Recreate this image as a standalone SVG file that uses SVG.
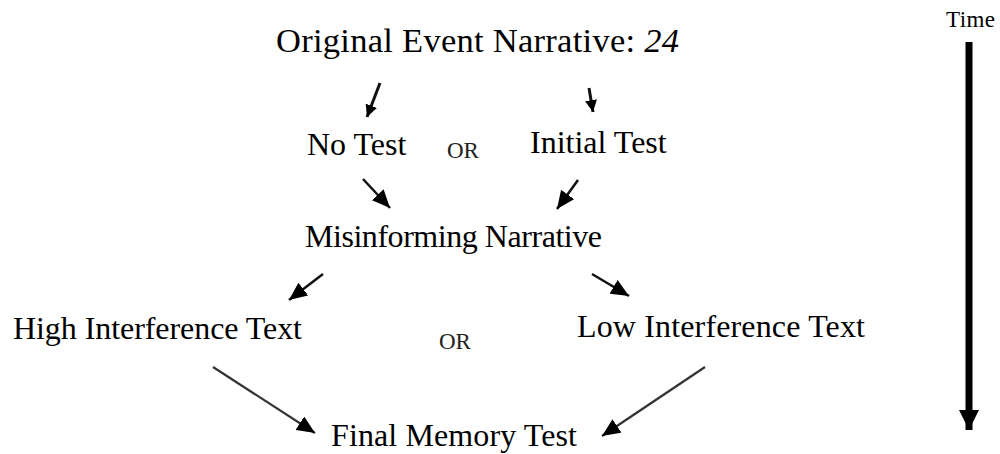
<svg xmlns="http://www.w3.org/2000/svg" width="1000" height="454" viewBox="0 0 1000 454">
<style>
text{font-family:"Liberation Serif","Times New Roman",serif;fill:#000}
.n{font-size:32px}
.or{font-size:23px;fill:#222}
.c{stroke:#111;fill:none}
</style>
<defs>
<marker id="hs" markerUnits="userSpaceOnUse" markerWidth="12" markerHeight="12" refX="12" refY="6" orient="auto"><path d="M0,0L12,6L0,12z" fill="#000"/></marker>
<marker id="hm" markerUnits="userSpaceOnUse" markerWidth="18" markerHeight="16" refX="18" refY="8" orient="auto"><path d="M0,0L18,8L0,16z" fill="#000"/></marker>
<marker id="ht" markerUnits="userSpaceOnUse" markerWidth="22" markerHeight="22" refX="20" refY="10" orient="auto"><path d="M0,0L20,10L0,20z" fill="#000"/></marker>
</defs>
<rect width="1000" height="454" fill="#fff"/>
<g id="title"><text x="276" y="52" font-size="34.5" textLength="403">Original Event Narrative: <tspan font-style="italic">24</tspan></text></g>
<g id="notest"><text class="n" x="307" y="155">No Test</text></g>
<g id="or1"><text class="or" x="447" y="158">OR</text></g>
<g id="initial"><text class="n" x="530" y="153">Initial Test</text></g>
<g id="misinforming"><text class="n" x="305" y="247" textLength="297">Misinforming Narrative</text></g>
<g id="high"><text class="n" x="13" y="339" textLength="289">High Interference Text</text></g>
<g id="or2"><text class="or" x="439" y="349">OR</text></g>
<g id="low"><text class="n" x="577" y="337" textLength="288">Low Interference Text</text></g>
<g id="final"><text class="n" x="331" y="446" textLength="246">Final Memory Test</text></g>
<g id="time"><text x="946" y="27" font-size="23" textLength="49">Time</text></g>
<g id="connectors" class="c">
<line x1="380" y1="83" x2="367" y2="117" stroke-width="3" marker-end="url(#hs)"/>
<line x1="589" y1="88" x2="593" y2="112" stroke-width="3" marker-end="url(#hs)"/>
<line x1="363" y1="179" x2="390" y2="208" stroke-width="2.5" marker-end="url(#hm)"/>
<line x1="578" y1="180" x2="557" y2="209" stroke-width="2.5" marker-end="url(#hm)"/>
<line x1="323" y1="274" x2="289" y2="300" stroke-width="2.5" marker-end="url(#hm)"/>
<line x1="592" y1="274" x2="629" y2="296" stroke-width="2.5" marker-end="url(#hm)"/>
<line x1="213" y1="367" x2="315" y2="433" stroke-width="2.2" stroke="#333" marker-end="url(#hm)"/>
<line x1="705" y1="367" x2="602" y2="436" stroke-width="2.2" stroke="#333" marker-end="url(#hm)"/>
<line x1="969" y1="42" x2="969" y2="430" stroke-width="7" stroke="#000" marker-end="url(#ht)"/>
</g>
</svg>
